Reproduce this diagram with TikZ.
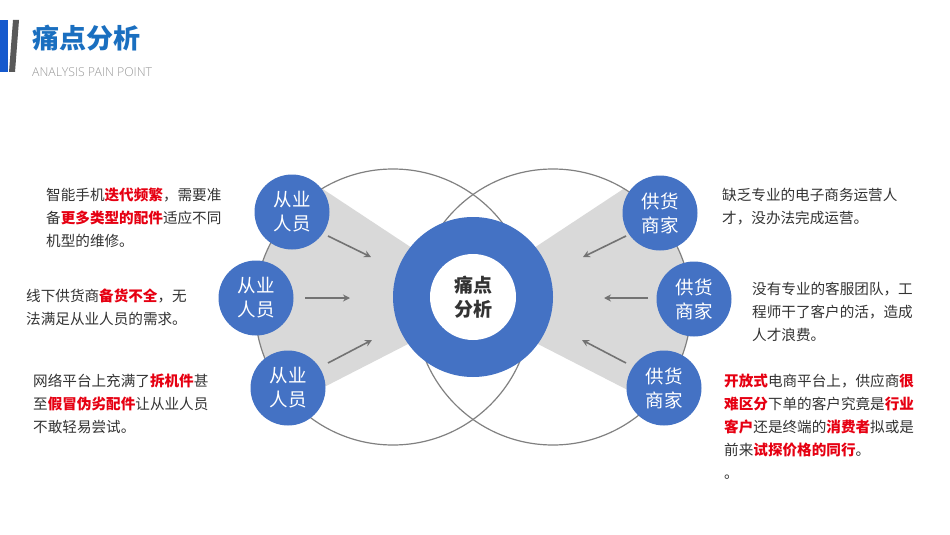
\documentclass[tikz,border=0pt]{standalone}
\usepackage{fontspec}
\setmainfont{Noto Sans CJK SC}
\newfontfamily\latinf{Open Sans Light}
\usetikzlibrary{arrows.meta}
\definecolor{myblue}{HTML}{4472C4}
\definecolor{ttlblue}{HTML}{1A6FC0}
\definecolor{hred}{HTML}{E60012}
\definecolor{txt}{HTML}{333333}
\newcommand{\hl}[1]{\textcolor{hred}{\bfseries #1}}
\begin{document}
\begin{tikzpicture}[x=1pt,y=-1pt,
  small/.style={circle,fill=myblue,minimum size=75pt,inner sep=0,text=white,align=center,font=\fontsize{18.5}{24}\selectfont},
  desc/.style={anchor=north west,inner sep=0,align=left,text=txt,font=\fontsize{14.6}{23}\selectfont},
  arr/.style={draw=gray!90!black,line width=1.6pt,-{Stealth[length=7pt,width=7pt]}}]
\useasboundingbox (0,0) rectangle (950,535);
\fill[white] (0,0) rectangle (950,535);
% header
\fill[ttlblue!80!blue] (0,20) rectangle (8,72);
\fill[gray!70!black] (13,20) -- (19,20) -- (15,72) -- (9,72) -- cycle;
\node[anchor=west,inner sep=0,text=ttlblue,font=\fontsize{27}{29}\selectfont\bfseries] (title) at (32,38) {痛点分析};
\node[anchor=west,inner sep=0,text=gray!80,font=\latinf\fontsize{12.3}{13}\selectfont] (sub) at (32,72) {ANALYSIS PAIN POINT};
% gray fans
\begin{scope}
\clip (393,307) circle (138);
\fill[gray!30] (250,141) -- (412,248) -- (412,342) -- (250,425) -- cycle;
\end{scope}
\begin{scope}
\clip (553,307) circle (138);
\fill[gray!30] (696,141) -- (534,248) -- (534,342) -- (696,425) -- cycle;
\end{scope}
\draw[gray,line width=1.2pt] (393,307) circle (138);
\draw[gray,line width=1.2pt] (553,307) circle (138);
% donut
\fill[myblue] (473,297) circle (80);
\node[circle,fill=white,minimum size=86pt,inner sep=0,align=center,text=txt,font=\fontsize{19}{24}\selectfont\bfseries] (core) at (473,297) {痛点\\分析};
% small circles
\node[small] (l1) at (292,212) {从业\\人员};
\node[small] (l2) at (256,298) {从业\\人员};
\node[small] (l3) at (288,388) {从业\\人员};
\node[small] (r1) at (660,213) {供货\\商家};
\node[small] (r2) at (694,299) {供货\\商家};
\node[small] (r3) at (664,388) {供货\\商家};
% arrows
\coordinate (a1s) at (328,236); \coordinate (a1e) at (371,257);
\coordinate (a2s) at (305,298); \coordinate (a2e) at (350,298);
\coordinate (a3s) at (328,363); \coordinate (a3e) at (372,340);
\coordinate (b1s) at (626,236); \coordinate (b1e) at (583,257);
\coordinate (b2s) at (648,298); \coordinate (b2e) at (604,298);
\coordinate (b3s) at (626,363); \coordinate (b3e) at (582,340);
\foreach \s/\e in {a1s/a1e,a2s/a2e,a3s/a3e,b1s/b1e,b2s/b2e,b3s/b3e} \draw[arr] (\s) -- (\e);
% texts
\node[desc] (t1) at (46,188) {智能手机\hl{迭代频繁}，需要准\\备\hl{更多类型的配件}适应不同\\机型的维修。};
\node[desc] (t2) at (26,289) {线下供货商\hl{备货不全}，无\\法满足从业人员的需求。};
\node[desc] (t3) at (33,374) {网络平台上充满了\hl{拆机件}甚\\至\hl{假冒伪劣配件}让从业人员\\不敢轻易尝试。};
\node[desc] (t4) at (722,188) {缺乏专业的电子商务运营人\\才，没办法完成运营。};
\node[desc] (t5) at (752,282) {没有专业的客服团队，工\\程师干了客户的活，造成\\人才浪费。};
\node[desc] (t6) at (724,374) {\hl{开放式}电商平台上，供应商\hl{很}\\\hl{难区分}下单的客户究竟是\hl{行业}\\\hl{客户}还是终端的\hl{消费者}拟或是\\前来\hl{试探价格的同行}。\\。};
\end{tikzpicture}
\end{document}
